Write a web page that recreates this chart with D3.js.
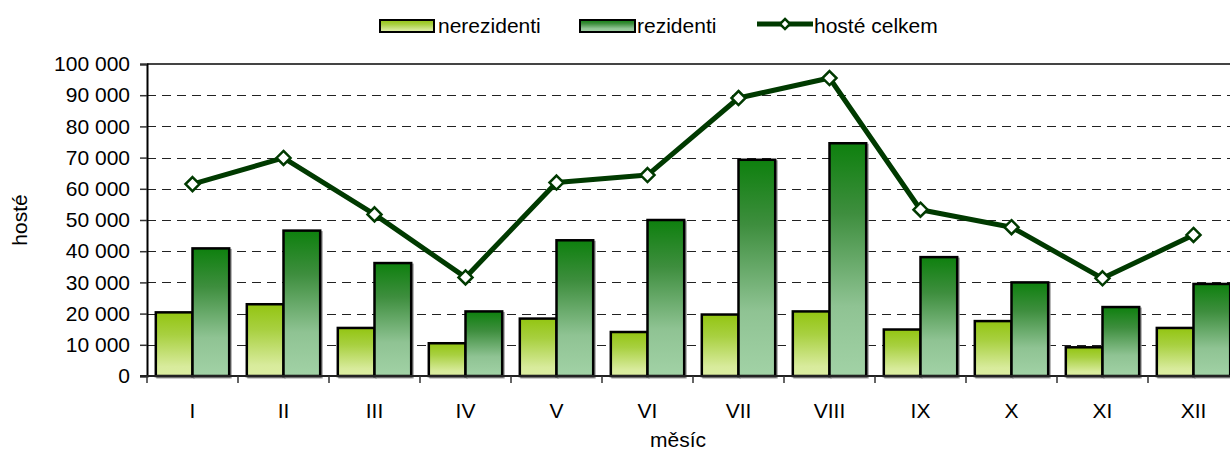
<!DOCTYPE html>
<html>
<head>
<meta charset="utf-8">
<script src="https://cdn.jsdelivr.net/npm/d3@7"></script>
<style>
  body { margin: 0; background: #fff; }
  svg { display: block; font-family: "Liberation Sans", Arial, sans-serif; }
</style>
</head>
<body>
<svg width="1230" height="450"></svg>
<script>
// months on the x axis
const months = ["I", "II", "III", "IV", "V", "VI", "VII", "VIII", "IX", "X", "XI", "XII"];
// series
const nerezidenti = [20400, 23000, 15400, 10500, 18400, 14100, 19700, 20700, 14900, 17600, 9200, 15400];
const rezidenti = [40900, 46600, 36200, 20700, 43500, 50000, 69300, 74600, 38100, 30000, 22100, 29500];
const hosteCelkem = [61500, 69900, 51800, 31600, 62000, 64400, 89100, 95500, 53300, 47700, 31300, 45200];
const yTicks = [0, 10000, 20000, 30000, 40000, 50000, 60000, 70000, 80000, 90000, 100000];
const seriesNames = ["nerezidenti", "rezidenti", "hosté celkem"];

function drawChart() {
  let svg = d3.select("svg"),
    left = 147,
    top = 64,
    bottom = 376,
    bandW = 91,
    right = left + bandW * months.length,
    fs = 21;

  let defs = svg.append("defs");
  let g1 = defs.append("linearGradient").attr("id", "gradN")
    .attr("x1", 0).attr("y1", 0).attr("x2", 0).attr("y2", 1);
  g1.append("stop").attr("offset", "0%").attr("stop-color", "#93c512");
  g1.append("stop").attr("offset", "35%").attr("stop-color", "#a8d040");
  g1.append("stop").attr("offset", "85%").attr("stop-color", "#d8eb9c");
  g1.append("stop").attr("offset", "100%").attr("stop-color", "#dceea2");
  let g2 = defs.append("linearGradient").attr("id", "gradR")
    .attr("x1", 0).attr("y1", 0).attr("x2", 0).attr("y2", 1);
  g2.append("stop").attr("offset", "0%").attr("stop-color", "#0e800e");
  g2.append("stop").attr("offset", "30%").attr("stop-color", "#3e8e3e");
  g2.append("stop").attr("offset", "70%").attr("stop-color", "#8fc393");
  g2.append("stop").attr("offset", "100%").attr("stop-color", "#a2d2a6");

  let x0 = d3.scaleBand().domain(months).range([left, right]).padding(0);
  let x1 = d3.scaleBand().domain(["n", "r"]).range([0, x0.bandwidth()])
    .paddingInner(0).paddingOuter(0.24);
  let y = d3.scaleLinear().domain([0, 100000]).range([bottom, top]);

  // gridlines
  svg.append("g").selectAll("line")
    .data(yTicks.filter((d)=> d > 0 && d < 100000))
    .enter().append("line")
    .attr("x1", left).attr("x2", right)
    .attr("y1", (d)=> Math.round(y(d)) + 0.5).attr("y2", (d)=> Math.round(y(d)) + 0.5)
    .attr("stroke", "#222").attr("stroke-width", 1.2)
    .attr("stroke-dasharray", "9,6");

  // top border
  svg.append("line")
    .attr("x1", left).attr("x2", right)
    .attr("y1", y(100000)).attr("y2", y(100000))
    .attr("stroke", "#444").attr("stroke-width", 2);

  // bars
  let groups = svg.append("g").selectAll("g")
    .data(months.map((m, i)=> ({ m: m, n: nerezidenti[i], r: rezidenti[i] })))
    .enter().append("g")
    .attr("transform", (d)=> "translate(" + x0(d.m) + ",0)");

  ["n", "r"].forEach((k)=> {
    groups.append("rect")
      .attr("x", x1(k) + 1.5).attr("y", (d)=> y(d[k]) + 1.5)
      .attr("width", x1.bandwidth()).attr("height", (d)=> bottom - y(d[k]))
      .attr("fill", "none").attr("stroke", "#999").attr("stroke-width", 2);
  });
  ["n", "r"].forEach((k)=> {
    groups.append("rect")
      .attr("x", x1(k)).attr("y", (d)=> y(d[k]))
      .attr("width", x1.bandwidth()).attr("height", (d)=> bottom - y(d[k]))
      .attr("fill", k === "n" ? "url(#gradN)" : "url(#gradR)")
      .attr("stroke", "#000").attr("stroke-width", 2.5);
  });

  // axes
  let yAxis = svg.append("g")
    .attr("transform", "translate(" + left + ",0)")
    .call(d3.axisLeft(y).tickValues(yTicks).tickSize(7).tickPadding(10)
      .tickFormat((d)=> d3.format(",")(d).replace(/,/g, " ")));
  yAxis.select(".domain").attr("stroke", "#000").attr("stroke-width", 2);
  yAxis.selectAll(".tick line").attr("stroke", "#333").attr("stroke-width", 1.5);
  yAxis.selectAll("text").attr("font-size", fs).attr("fill", "#000")
    .attr("font-family", "Liberation Sans, Arial, sans-serif");

  let xAxis = svg.append("g")
    .attr("transform", "translate(0," + bottom + ")");
  xAxis.append("line").attr("x1", left - 7).attr("x2", right)
    .attr("stroke", "#222").attr("stroke-width", 2);
  xAxis.selectAll(".xt").data(months.concat(["end"]))
    .enter().append("line")
    .attr("x1", (d, i)=> left + i * x0.step()).attr("x2", (d, i)=> left + i * x0.step())
    .attr("y1", 0).attr("y2", 7)
    .attr("stroke", "#333").attr("stroke-width", 1.5);
  xAxis.selectAll("text").data(months)
    .enter().append("text")
    .attr("x", (d)=> x0(d) + x0.bandwidth() / 2)
    .attr("y", 42)
    .attr("text-anchor", "middle")
    .attr("font-size", fs)
    .text((d)=> d);

  // total line
  let line = d3.line()
    .x((d, i)=> x0(months[i]) + x0.bandwidth() / 2)
    .y((d)=> y(d));
  svg.append("path")
    .datum(hosteCelkem)
    .attr("d", line)
    .attr("fill", "none")
    .attr("stroke", "#003a00")
    .attr("stroke-width", 5)
    .attr("stroke-linejoin", "round");
  svg.append("g").selectAll("path")
    .data(hosteCelkem)
    .enter().append("path")
    .attr("transform", (d, i)=> "translate(" + (x0(months[i]) + x0.bandwidth() / 2) + "," + y(d) + ")")
    .attr("d", d3.symbol(d3.symbolDiamond2, 125))
    .attr("fill", "#fff")
    .attr("stroke", "#003a00")
    .attr("stroke-width", 2.5);

  // axis titles
  svg.append("text")
    .attr("x", 678).attr("y", 447)
    .attr("text-anchor", "middle").attr("font-size", fs)
    .text("měsíc");
  svg.append("text")
    .attr("transform", "translate(27,220) rotate(-90)")
    .attr("text-anchor", "middle").attr("font-size", fs)
    .text("hosté");

  // legend
  let legend = svg.append("g");
  legend.append("rect").attr("x", 380).attr("y", 20).attr("width", 54).attr("height", 12)
    .attr("fill", "url(#gradN)").attr("stroke", "#000").attr("stroke-width", 2);
  legend.append("text").attr("x", 438).attr("y", 33).attr("font-size", fs).text(seriesNames[0]);
  legend.append("rect").attr("x", 580).attr("y", 20).attr("width", 55).attr("height", 12)
    .attr("fill", "url(#gradR)").attr("stroke", "#000").attr("stroke-width", 2);
  legend.append("text").attr("x", 637).attr("y", 33).attr("font-size", fs).text(seriesNames[1]);
  legend.append("line").attr("x1", 757).attr("x2", 813).attr("y1", 24).attr("y2", 24)
    .attr("stroke", "#003a00").attr("stroke-width", 5);
  legend.append("path").attr("transform", "translate(785,24)")
    .attr("d", d3.symbol(d3.symbolDiamond2, 65))
    .attr("fill", "#fff").attr("stroke", "#003a00").attr("stroke-width", 2.5);
  legend.append("text").attr("x", 814).attr("y", 33).attr("font-size", fs).text(seriesNames[2]);
}

drawChart();
</script>
</body>
</html>
